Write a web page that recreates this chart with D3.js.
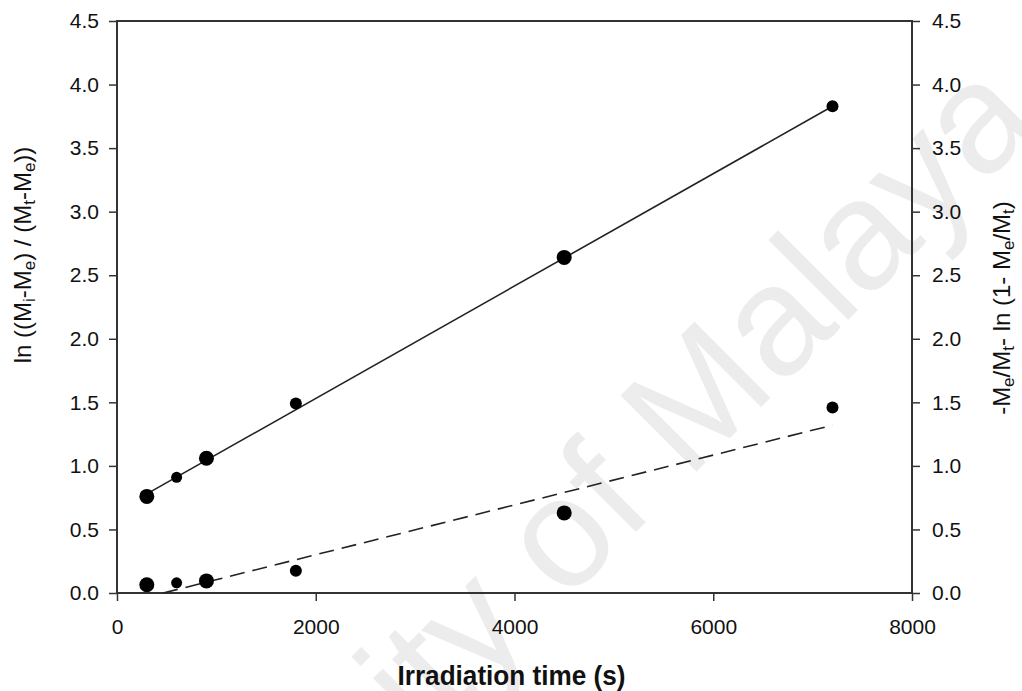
<!DOCTYPE html>
<html>
<head>
<meta charset="utf-8">
<script src="https://cdn.jsdelivr.net/npm/d3@7"></script>
<style>
  body { margin: 0; background: #fff; }
  svg { display: block; font-family: "Liberation Sans", Arial, sans-serif; }
  .tick text { font-size: 21px; fill: #111; }
  .tick line { stroke: #333; stroke-width: 1.5; }
</style>
</head>
<body>
<svg id="chart" width="1022" height="691"></svg>
<script>
// Data
const times = [300, 600, 900, 1800, 4500, 7200];
const leftValues = [0.76, 0.91, 1.06, 1.49, 2.64, 3.83];
const rightValues = [0.065, 0.08, 0.095, 0.175, 0.63, 1.46];
const markerRadius = [7.5, 5.5, 7.5, 6, 7.5, 6];

// Linear fits (intercept, slope)
const leftFit = [0.647, 0.000442];
const rightFit = [-0.091, 0.000196];

const xTicks = [0, 2000, 4000, 6000, 8000];
const yTicks = [0, 0.5, 1.0, 1.5, 2.0, 2.5, 3.0, 3.5, 4.0, 4.5];

const svg = d3.select("#chart");
const margin = { left: 117, right: 110, top: 21, bottom: 98 };
const width = +svg.attr("width"), height = +svg.attr("height");
const plotW = width - margin.left - margin.right;
const plotH = height - margin.top - margin.bottom;

// Watermark
svg.append("text")
    .attr("transform", "translate(50,1118) rotate(-45)")
    .style("font-size", "156px")
    .style("fill", "#ececec")
    .text("University of Malaya");

const x = d3.scaleLinear().domain([0, 8000]).range([margin.left, margin.left + plotW]);
const yLeft = d3.scaleLinear().domain([0, 4.5]).range([margin.top + plotH, margin.top]);
const yRight = d3.scaleLinear().domain([0, 4.5]).range([margin.top + plotH, margin.top]);

// Axes
const xAxis = svg.append("g")
    .attr("transform", `translate(0,${margin.top + plotH})`)
    .call(d3.axisBottom(x).tickValues(xTicks).tickFormat(d3.format("d")).tickSize(8).tickSizeOuter(0).tickPadding(18));
const leftAxis = svg.append("g")
    .attr("transform", `translate(${margin.left},0)`)
    .call(d3.axisLeft(yLeft).tickValues(yTicks).tickFormat(d3.format(".1f")).tickSize(8).tickSizeOuter(0).tickPadding(10));
const rightAxis = svg.append("g")
    .attr("transform", `translate(${margin.left + plotW},0)`)
    .call(d3.axisRight(yRight).tickValues(yTicks).tickFormat(d3.format(".1f")).tickSize(8).tickSizeOuter(0).tickPadding(12));
[xAxis, leftAxis, rightAxis].forEach(g => g.select(".domain").remove());

// Frame
svg.append("rect")
    .attr("x", margin.left)
    .attr("y", margin.top)
    .attr("width", plotW)
    .attr("height", plotH)
    .attr("fill", "none")
    .attr("stroke", "#333")
    .attr("stroke-width", 2);

// Fit lines
const solidLine = d3.line().x(d => x(d)).y(d => yLeft(leftFit[0] + leftFit[1] * d));
svg.append("path")
    .attr("d", solidLine([times[0], times[times.length - 1]]))
    .attr("fill", "none")
    .attr("stroke", "#222")
    .attr("stroke-width", 1.6);

const dashStart = Math.max(times[0], -rightFit[0] / rightFit[1]);
const dashLine = d3.line().x(d => x(d)).y(d => yRight(rightFit[0] + rightFit[1] * d));
svg.append("path")
    .attr("d", dashLine([dashStart, times[times.length - 1]]))
    .attr("fill", "none")
    .attr("stroke", "#222")
    .attr("stroke-width", 1.6)
    .attr("stroke-dasharray", "15,8");

// Points
svg.append("g")
    .selectAll("circle")
    .data(times)
    .enter()
    .append("circle")
    .attr("cx", d => x(d))
    .attr("cy", (d, i) => yLeft(leftValues[i]))
    .attr("r", (d, i) => markerRadius[i])
    .attr("fill", "#000");

svg.append("g")
    .selectAll("circle")
    .data(times)
    .enter()
    .append("circle")
    .attr("cx", d => x(d))
    .attr("cy", (d, i) => yRight(rightValues[i]))
    .attr("r", (d, i) => markerRadius[i])
    .attr("fill", "#000");

// Axis titles
svg.append("text")
    .attr("x", (margin.left + margin.left + plotW) / 2 - 3)
    .attr("y", 685)
    .attr("text-anchor", "middle")
    .attr("textLength", 228)
    .attr("lengthAdjust", "spacingAndGlyphs")
    .style("font-size", "28px")
    .style("font-weight", "bold")
    .style("fill", "#111")
    .text("Irradiation time (s)");

function addTitle(tx, ty, parts) {
    const t = svg.append("text")
        .attr("transform", `translate(${tx},${ty}) rotate(-90)`)
        .attr("text-anchor", "middle")
        .style("font-size", "24px")
        .style("fill", "#111");
    parts.forEach(p => {
        const span = t.append("tspan").text(p[0]);
        if (p[1]) {
            span.style("font-size", "17px").attr("dy", 4);
        } else if (p[2]) {
            span.attr("dy", -4);
        }
    });
}

// [text, isSub, resetAfterSub]
addTitle(31, 255, [
    ["ln ((M"], ["i", true], ["-M", false, true], ["e", true], [") / (M", false, true],
    ["t", true], ["-M", false, true], ["e", true], ["))", false, true]
]);
addTitle(1010, 308, [
    ["-M"], ["e", true], ["/M", false, true], ["t", true], ["- ln (1- M", false, true],
    ["e", true], ["/M", false, true], ["t", true], [")", false, true]
]);
</script>
</body>
</html>
